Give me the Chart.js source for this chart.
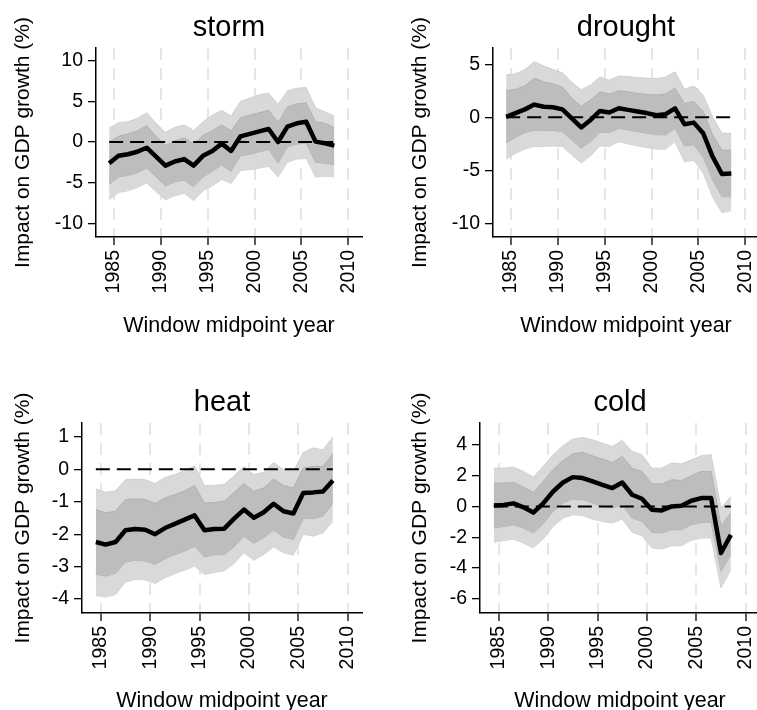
<!DOCTYPE html>
<html>
<head>
<meta charset="utf-8">
<script src="https://cdn.jsdelivr.net/npm/chart.js@4.4.1/dist/chart.umd.min.js"></script>
<style>
  html, body { margin: 0; padding: 0; background: #fff; }
  body { width: 757px; height: 710px; position: relative; overflow: hidden; }
  .panel { position: absolute; width: 397px; height: 375px; }
</style>
</head>
<body>
<div class="panel" style="left:0;top:0"><canvas id="storm" width="397" height="375"></canvas></div>
<div class="panel" style="left:397px;top:0"><canvas id="drought" width="397" height="375"></canvas></div>
<div class="panel" style="left:0;top:375px"><canvas id="heat" width="397" height="375"></canvas></div>
<div class="panel" style="left:397px;top:375px"><canvas id="cold" width="397" height="375"></canvas></div>
<script>
// window midpoint years
const years = [1984.5, 1985.5, 1986.5, 1987.5, 1988.5, 1989.5, 1990.5, 1991.5, 1992.5,
  1993.5, 1994.5, 1995.5, 1996.5, 1997.5, 1998.5, 1999.5, 2000.5, 2001.5, 2002.5,
  2003.5, 2004.5, 2005.5, 2006.5, 2007.5, 2008.5];
const xTicks = [1985, 1990, 1995, 2000, 2005, 2010];

// storm
const stormEst = [-2.6, -1.7, -1.5, -1.2, -0.7, -1.8, -2.9, -2.4, -2.1, -2.9, -1.7, -1.1, -0.2,
  -1.1, 0.7, 1.0, 1.3, 1.6, 0.0, 1.9, 2.3, 2.5, 0.05, -0.15, -0.45];
const stormInnerHi = [0.0, 0.7, 1.0, 1.35, 2.0, 0.7, -0.45, 0.15, 0.5, -0.25, 0.8, 1.4, 2.1,
  1.35, 3.0, 3.3, 3.6, 3.9, 2.4, 4.3, 4.7, 4.8, 2.5, 2.3, 1.8];
const stormInnerLo = [-5.2, -4.3, -4.1, -3.8, -3.2, -4.3, -5.4, -4.9, -4.7, -5.5, -4.3, -3.6, -2.8,
  -3.6, -1.7, -1.5, -1.2, -0.9, -2.6, -0.6, -0.25, -0.15, -2.5, -2.6, -2.8];
const stormOuterHi = [1.7, 2.4, 2.5, 2.9, 3.6, 2.3, 1.2, 1.8, 2.1, 1.4, 2.5, 3.3, 3.9,
  3.2, 5.0, 5.4, 5.8, 6.0, 4.6, 6.3, 6.6, 6.7, 4.2, 3.7, 3.2];
const stormOuterLo = [-7.1, -6.2, -6.0, -5.6, -5.0, -6.1, -7.1, -6.6, -6.3, -7.2, -6.0, -5.4, -4.6,
  -5.1, -3.5, -3.4, -3.2, -3.0, -4.3, -2.5, -2.1, -2.0, -4.3, -4.2, -4.3];
const stormYTicks = [-10, -5, 0, 5, 10];

// drought
const droughtEst = [0.05, 0.4, 0.75, 1.2, 1.0, 0.95, 0.75, -0.1, -0.95, -0.25, 0.6, 0.45, 0.85,
  0.7, 0.55, 0.4, 0.2, 0.3, 0.85, -0.65, -0.5, -1.5, -3.7, -5.35, -5.3];
const droughtInnerHi = [2.5, 2.65, 2.95, 3.7, 3.35, 3.15, 2.85, 1.8, 1.05, 1.65, 2.4, 2.2, 2.5,
  2.4, 2.25, 2.15, 2.1, 2.2, 2.75, 1.3, 1.5, 0.55, -1.65, -3.1, -3.1];
const droughtInnerLo = [-2.4, -1.9, -1.45, -1.2, -1.25, -1.25, -1.35, -2.15, -2.9, -2.3, -1.4, -1.45, -1.05,
  -1.2, -1.35, -1.5, -1.65, -1.65, -1.05, -2.7, -2.6, -3.75, -5.9, -7.5, -7.5];
const droughtOuterHi = [4.0, 4.1, 4.5, 5.25, 4.85, 4.5, 4.2, 3.3, 2.6, 3.05, 3.8, 3.5, 3.9,
  3.85, 3.75, 3.7, 3.65, 3.8, 4.3, 2.65, 2.95, 2.1, 0.05, -1.5, -1.5];
const droughtOuterLo = [-3.95, -3.4, -3.0, -2.75, -2.75, -2.7, -2.75, -3.55, -4.3, -3.65, -2.7, -2.75, -2.3,
  -2.5, -2.7, -2.85, -3.0, -3.0, -2.3, -4.2, -4.05, -5.25, -7.5, -9.0, -8.8];
const droughtYTicks = [-10, -5, 0, 5];

// heat
const heatEst = [-2.24, -2.32, -2.24, -1.88, -1.84, -1.86, -2.0, -1.81, -1.68, -1.55, -1.42, -1.88, -1.84,
  -1.83, -1.52, -1.24, -1.49, -1.32, -1.06, -1.29, -1.36, -0.73, -0.71, -0.68, -0.34];
const heatInnerHi = [-1.24, -1.34, -1.29, -0.93, -0.91, -0.93, -1.05, -0.88, -0.78, -0.66, -0.5, -1.04, -1.02,
  -0.98, -0.71, -0.44, -0.68, -0.57, -0.3, -0.5, -0.57, 0.04, 0.09, 0.09, 0.48];
const heatInnerLo = [-3.24, -3.29, -3.21, -2.86, -2.8, -2.83, -2.93, -2.76, -2.63, -2.52, -2.37, -2.7, -2.63,
  -2.63, -2.39, -2.06, -2.28, -2.11, -1.87, -2.09, -2.16, -1.51, -1.52, -1.44, -1.05];
const heatOuterHi = [-0.6, -0.71, -0.66, -0.32, -0.3, -0.32, -0.44, -0.25, -0.16, -0.04, 0.11, -0.5, -0.49,
  -0.47, -0.2, 0.09, -0.16, -0.09, 0.21, -0.01, -0.06, 0.52, 0.66, 0.6, 1.0];
const heatOuterLo = [-3.89, -3.94, -3.86, -3.48, -3.39, -3.41, -3.52, -3.34, -3.22, -3.11, -2.98, -3.24, -3.18,
  -3.13, -2.9, -2.57, -2.8, -2.63, -2.39, -2.57, -2.65, -2.0, -2.06, -1.96, -1.6];
const heatYTicks = [-4, -3, -2, -1, 0, 1];

// cold
const coldEst = [0.06, 0.1, 0.2, -0.06, -0.4, 0.2, 0.97, 1.55, 1.9, 1.84, 1.62, 1.4, 1.19,
  1.55, 0.76, 0.5, -0.22, -0.26, 0.0, 0.04, 0.37, 0.54, 0.54, -3.02, -1.84];
const coldInnerHi = [1.51, 1.51, 1.55, 1.25, 0.91, 1.62, 2.38, 2.98, 3.41, 3.5, 3.28, 3.07, 2.85,
  3.24, 2.48, 2.27, 1.47, 1.45, 1.73, 1.68, 1.99, 2.27, 2.27, -1.25, -0.43];
const coldInnerLo = [-1.4, -1.3, -1.19, -1.4, -1.73, -1.12, -0.32, 0.22, 0.48, 0.43, 0.22, 0.0, -0.1,
  0.11, -0.76, -0.97, -1.68, -1.73, -1.51, -1.51, -1.19, -1.04, -1.04, -4.21, -3.13];
const coldOuterHi = [2.48, 2.48, 2.55, 2.27, 1.9, 2.6, 3.35, 3.93, 4.36, 4.47, 4.32, 4.1, 3.89,
  4.28, 3.56, 3.35, 2.48, 2.48, 2.81, 2.76, 3.02, 3.28, 3.35, -0.1, 0.65];
const coldOuterLo = [-2.33, -2.22, -2.12, -2.38, -2.7, -2.1, -1.3, -0.76, -0.54, -0.6, -0.82, -0.97, -1.08,
  -0.82, -1.68, -1.9, -2.7, -2.76, -2.55, -2.55, -2.2, -2.05, -2.05, -5.29, -4.1];
const coldYTicks = [-6, -4, -2, 0, 2, 4];

const FONT = '"Liberation Sans", Arial, Helvetica, sans-serif';
Chart.defaults.font.family = FONT;
Chart.defaults.color = '#000';

const PANEL_W = 397;
const PANEL_H = 375;

// titles and axis titles, drawn relative to the plot area
const panelLabels = {
  id: 'panelLabels',
  afterDraw(chart, args, opts) {
    const { ctx, chartArea } = chart;
    const cx = (chartArea.left + chartArea.right) / 2;
    const cy = (chartArea.top + chartArea.bottom) / 2;
    ctx.save();
    ctx.fillStyle = '#000';
    ctx.textAlign = 'center';
    ctx.textBaseline = 'alphabetic';
    ctx.font = '29px ' + FONT;
    ctx.fillText(opts.title, cx, 36);
    ctx.font = '21.5px ' + FONT;
    ctx.fillText('Window midpoint year', cx, 332);
    ctx.translate(29, cy);
    ctx.rotate(-Math.PI / 2);
    ctx.font = '21px ' + FONT;
    ctx.fillText('Impact on GDP growth (%)', 0, 0);
    ctx.restore();
  }
};

function pts(ys) {
  return years.map((x, i) => ({ x: x, y: ys[i] }));
}

function makePanel(id, title, area, yRange, yTicks, est, innerHi, innerLo, outerHi, outerLo) {
  const ctx = document.getElementById(id).getContext('2d');
  const zero = [{ x: years[0], y: 0 }, { x: years[years.length - 1], y: 0 }];
  return new Chart(ctx, {
    type: 'line',
    data: {
      datasets: [
        { data: pts(est), borderColor: '#000', borderWidth: 4.5, borderJoinStyle: 'round', pointRadius: 0, fill: false },
        { data: zero, borderColor: '#000', borderWidth: 2, borderDash: [14, 7], pointRadius: 0, fill: false },
        { data: pts(innerHi), borderColor: '#b2b2b2', borderWidth: 1, backgroundColor: '#bdbdbd', pointRadius: 0, fill: '+1' },
        { data: pts(innerLo), borderColor: '#b2b2b2', borderWidth: 1, pointRadius: 0, fill: false },
        { data: pts(outerHi), borderColor: '#d0d0d0', borderWidth: 1, backgroundColor: '#d9d9d9', pointRadius: 0, fill: '+1' },
        { data: pts(outerLo), borderColor: '#d0d0d0', borderWidth: 1, pointRadius: 0, fill: false },
      ],
    },
    options: {
      responsive: false,
      animation: false,
      events: [],
      layout: { padding: { top: area.top, right: PANEL_W - area.right, bottom: 0, left: 0 } },
      scales: {
        x: {
          type: 'linear',
          min: 1983.1,
          max: 2011.45,
          afterBuildTicks: (s) => { s.ticks = xTicks.map((v) => ({ value: v })); },
          afterFit: (s) => { s.height = PANEL_H - area.bottom; },
          ticks: {
            font: { size: 19.5 }, minRotation: 90, maxRotation: 90, padding: 5, autoSkip: false,
            callback: (v) => String(v),
          },
          grid: { color: '#e6e6e6', lineWidth: 2, tickColor: '#000', tickWidth: 1.3, tickLength: 8, tickBorderDash: [] },
          border: { display: true, color: '#000', width: 1.5, dash: [12, 8] },
        },
        y: {
          min: yRange[0],
          max: yRange[1],
          afterBuildTicks: (s) => { s.ticks = yTicks.map((v) => ({ value: v })); },
          afterFit: (s) => { s.width = area.left; },
          ticks: { font: { size: 19.5 }, padding: 5, callback: (v) => String(v) },
          grid: { drawOnChartArea: false, color: '#000', lineWidth: 1.3, tickLength: 8 },
          border: { display: true, color: '#000', width: 1.5 },
        },
      },
      plugins: {
        legend: { display: false },
        tooltip: { enabled: false },
        panelLabels: { title: title },
      },
    },
    plugins: [panelLabels],
  });
}

makePanel('storm', 'storm', { left: 96, right: 362, top: 48, bottom: 237 }, [-11.68, 11.56], stormYTicks,
  stormEst, stormInnerHi, stormInnerLo, stormOuterHi, stormOuterLo);
makePanel('drought', 'drought', { left: 96, right: 362, top: 48, bottom: 237 }, [-11.29, 6.54], droughtYTicks,
  droughtEst, droughtInnerHi, droughtInnerLo, droughtOuterHi, droughtOuterLo);
makePanel('heat', 'heat', { left: 82, right: 362, top: 48, bottom: 238 }, [-4.43, 1.43], heatYTicks,
  heatEst, heatInnerHi, heatInnerLo, heatOuterHi, heatOuterLo);
makePanel('cold', 'cold', { left: 83, right: 363, top: 48, bottom: 238 }, [-6.91, 5.41], coldYTicks,
  coldEst, coldInnerHi, coldInnerLo, coldOuterHi, coldOuterLo);
</script>
</body>
</html>
